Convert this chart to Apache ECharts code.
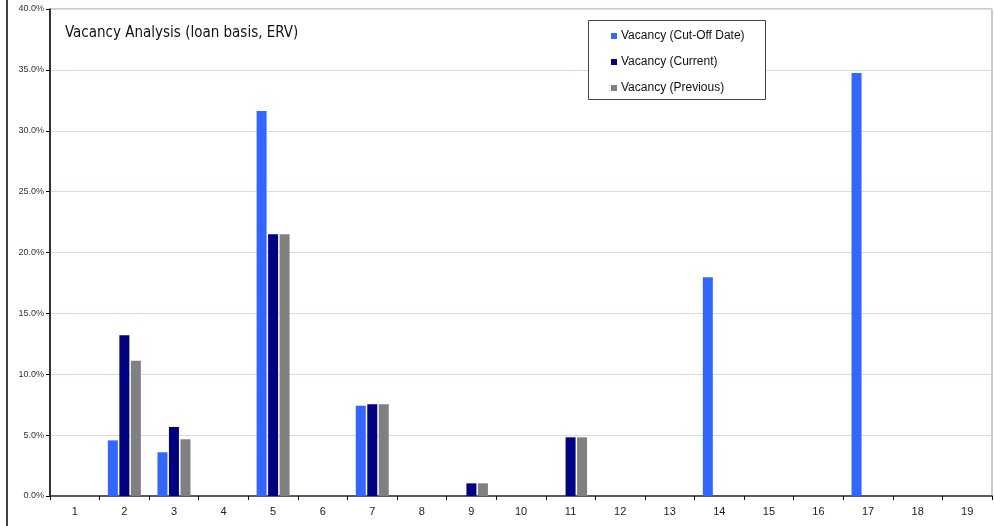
<!DOCTYPE html>
<html>
<head>
<meta charset="utf-8">
<script src="https://cdn.jsdelivr.net/npm/echarts@6/dist/echarts.min.js"></script>
<style>
  html, body { margin: 0; padding: 0; background: #fff; }
  #chart { width: 994px; height: 526px; }
</style>
</head>
<body>
<div id="chart"></div>
<script>
// Property numbers along the x axis
const categories = ['1','2','3','4','5','6','7','8','9','10','11','12','13','14','15','16','17','18','19'];

// Vacancy rates in percent, one value per property
const vacancyCutOff   = [0, 4.57, 3.59, 0, 31.62, 0, 7.42, 0, 0,    0, 0,    0, 0, 17.96, 0, 0, 34.74, 0, 0];
const vacancyCurrent  = [0, 13.2, 5.67, 0, 21.5,  0, 7.53, 0, 1.04, 0, 4.82, 0, 0, 0,     0, 0, 0,     0, 0];
const vacancyPrevious = [0, 11.11, 4.66, 0, 21.5, 0, 7.53, 0, 1.04, 0, 4.82, 0, 0, 0,     0, 0, 0,     0, 0];

const seriesNames = ['Vacancy (Cut-Off Date)', 'Vacancy (Current)', 'Vacancy (Previous)'];
const yTicks = { min: 0, max: 40, interval: 5 };

const FONT = '"Liberation Sans", Arial, sans-serif';
const TITLE_FONT = '"DejaVu Sans Condensed", "Liberation Sans", sans-serif';

const chart = echarts.init(document.getElementById('chart'), null, { renderer: 'canvas' });

function barSeries(name, data, color) {
  return {
    name: name,
    type: 'bar',
    data: data,
    barWidth: 10,
    barGap: '15%',
    itemStyle: { color: color },
    emphasis: { disabled: true }
  };
}

chart.setOption({
  animation: false,
  backgroundColor: '#ffffff',
  title: {
    text: 'Vacancy Analysis (loan basis, ERV)',
    left: 60,
    top: 21,
    textStyle: { fontFamily: TITLE_FONT, fontSize: 15, fontWeight: 'normal', color: '#111' }
  },
  legend: {
    orient: 'vertical',
    left: 606,
    top: 24,
    itemWidth: 6,
    itemHeight: 6,
    itemGap: 12,
    icon: 'rect',
    z: 10,
    textStyle: { fontFamily: FONT, fontSize: 12, color: '#111', lineHeight: 14, padding: [0, 0, 0, -1] },
    data: seriesNames
  },
  graphic: [
    { type: 'rect', z: 5, shape: { x: 588.5, y: 20.5, width: 177, height: 79 },
      style: { fill: '#fff', stroke: '#444', lineWidth: 1 } },
    { type: 'line', shape: { x1: 7, y1: 0, x2: 7, y2: 526 },
      style: { stroke: '#000', lineWidth: 1.5 } }
  ],
  grid: {
    left: 50, right: 2, top: 9, bottom: 30,
    show: true, borderColor: '#999', borderWidth: 1, backgroundColor: '#fff'
  },
  xAxis: {
    type: 'category',
    data: categories,
    boundaryGap: true,
    axisLine: { lineStyle: { color: '#333', width: 1.5 } },
    axisTick: { show: true, length: 4, lineStyle: { color: '#000' } },
    axisLabel: { fontFamily: FONT, fontSize: 11, color: '#222', margin: 10 },
    splitLine: { show: false }
  },
  yAxis: {
    type: 'value',
    min: yTicks.min,
    max: yTicks.max,
    interval: yTicks.interval,
    axisLine: { show: true, lineStyle: { color: '#000', width: 1.5 } },
    axisTick: { show: true, length: 4, lineStyle: { color: '#000' } },
    axisLabel: {
      fontFamily: FONT, fontSize: 9, color: '#333', margin: 6,
      formatter: v => v.toFixed(1) + '%'
    },
    splitLine: { lineStyle: { color: '#cfdde6', width: 1 } }
  },
  series: [
    barSeries(seriesNames[0], vacancyCutOff, '#3366ff'),
    barSeries(seriesNames[1], vacancyCurrent, '#000080'),
    barSeries(seriesNames[2], vacancyPrevious, '#808080')
  ]
});
</script>
</body>
</html>
